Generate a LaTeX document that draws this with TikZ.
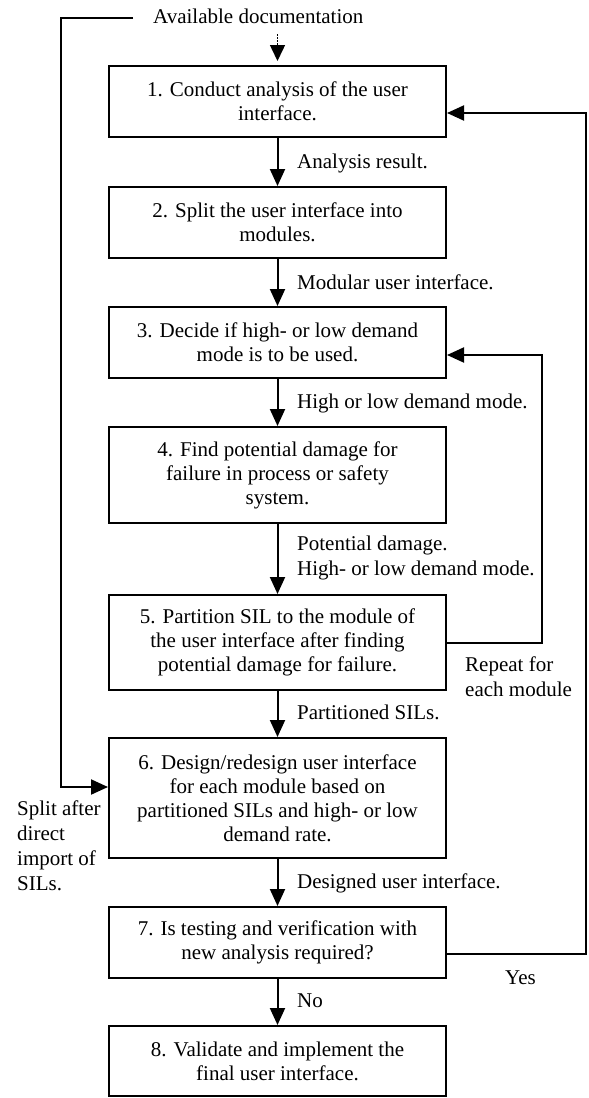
\documentclass[tikz,border=0pt]{standalone}
\usepackage{fontspec}
\setmainfont{Liberation Serif}
\usetikzlibrary{arrows.meta}
\begin{document}
\begin{tikzpicture}[x=1pt,y=-1pt,
  every node/.style={font=\fontsize{21}{24}\selectfont},
  box/.style={draw, line width=2pt, minimum width=337pt, align=center, inner sep=2pt},
  arr/.style={line width=2pt, -{Triangle[length=17pt,width=15pt]}},
  line/.style={line width=2pt},
  lbl/.style={anchor=base west, inner sep=0pt},
]
\useasboundingbox (0,0) rectangle (589,1098);
% boxes
\node[box, minimum height=71pt] (b1) at (277.5,101.5) {1. Conduct analysis of the user\\interface.};
\node[box, minimum height=71pt] (b2) at (277.5,222.5) {2. Split the user interface into\\modules.};
\node[box, minimum height=71pt] (b3) at (277.5,342.5) {3. Decide if high- or low demand\\mode is to be used.};
\node[box, minimum height=96pt] (b4) at (277.5,475) {4. Find potential damage for\\failure in process or safety\\system.};
\node[box, minimum height=95pt] (b5) at (277.5,642.5) {5. Partition SIL to the module of\\the user interface after finding\\potential damage for failure.};
\node[box, minimum height=120pt] (b6) at (277.5,798) {6. Design/redesign user interface\\for each module based on\\partitioned SILs and high- or low\\demand rate.};
\node[box, minimum height=71pt] (b7) at (277.5,942.5) {7. Is testing and verification with\\new analysis required?};
\node[box, minimum height=70pt] (b8) at (277.5,1061) {8. Validate and implement the\\final user interface.};
% top text
\node[anchor=base west, inner sep=0pt] (doc) at (153,23) {Available documentation};
\coordinate (docs) at (277.5,34);
\draw[line width=1.5pt, dash pattern=on 1.5pt off 1.5pt, -{Triangle[length=16pt,width=15pt]}, shorten >=4pt] (docs) -- (b1.north);
% main arrows
\draw[arr] (b1) -- (b2);
\draw[arr] (b2) -- (b3);
\draw[arr] (b3) -- (b4);
\draw[arr] (b4) -- (b5);
\draw[arr] (b5) -- (b6);
\draw[arr] (b6) -- (b7);
\draw[arr] (b7) -- (b8);
% arrow labels
\node[lbl] (l1) at (297,168) {Analysis result.};
\node[lbl] (l2) at (297,289) {Modular user interface.};
\node[lbl] (l3) at (297,408) {High or low demand mode.};
\node[lbl] (l4a) at (297,550) {Potential damage.};
\node[lbl] (l4b) at (297,575) {High- or low demand mode.};
\node[lbl] (l5) at (297,719) {Partitioned SILs.};
\node[lbl] (l6) at (297,888) {Designed user interface.};
\node[lbl] (l7) at (297,1007) {No};
% left loop
\coordinate (ls) at (133,18);
\coordinate (lc1) at (61,18);
\coordinate (lc2) at (61,787);
\draw[arr] (ls) -- (lc1) -- (lc2) -- (b6.west |- lc2);
\node[lbl] (sp1) at (17,815) {Split after};
\node[lbl] (sp2) at (17,840) {direct};
\node[lbl] (sp3) at (17,865) {import of};
\node[lbl] (sp4) at (17,890) {SILs.};
% inner loop
\coordinate (ic1) at (542,642.5);
\coordinate (ic2) at (542,355);
\draw[arr] (b5.east) -- (ic1) -- (ic2) -- (b3.east |- ic2);
\node[lbl] (rp1) at (465,671) {Repeat for};
\node[lbl] (rp2) at (465,696) {each module};
% outer loop
\coordinate (os) at (446,954);
\coordinate (oc1) at (586,954);
\coordinate (oc2) at (586,113);
\draw[arr] (b7.east |- os) -- (oc1) -- (oc2) -- (b1.east |- oc2);
\node[lbl] (yes) at (505,984) {Yes};
\end{tikzpicture}
\end{document}
